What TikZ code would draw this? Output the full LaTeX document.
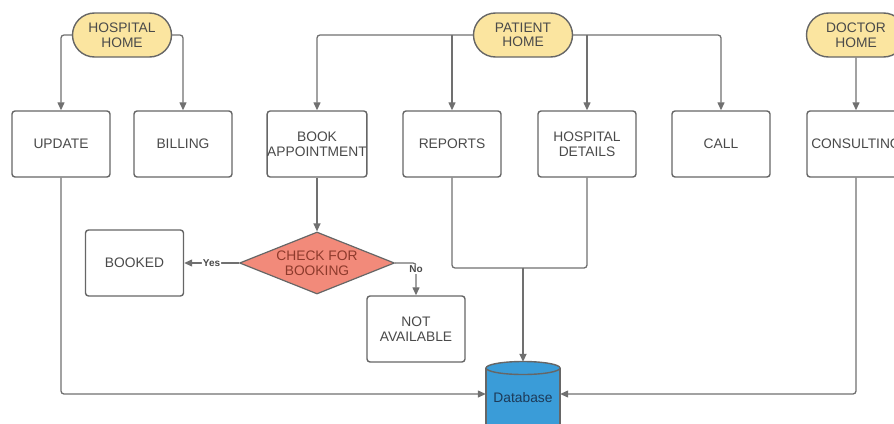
\documentclass[tikz,border=0pt]{standalone}
\usepackage{fontspec}
\setmainfont{Liberation Sans}
\usetikzlibrary{arrows.meta,shapes.geometric,shapes.misc}
\definecolor{linec}{HTML}{707070}
\definecolor{borderc}{HTML}{666666}
\definecolor{textc}{HTML}{4A4A4A}
\definecolor{homefill}{HTML}{FBE5A0}
\definecolor{diafill}{HTML}{F28A7A}
\definecolor{diatext}{HTML}{8E3A2C}
\definecolor{dbfill}{HTML}{3A9CD8}
\definecolor{dbtext}{HTML}{1D3A58}
\begin{document}
\begin{tikzpicture}[x=1pt,y=-1pt,
  txt/.style={font=\fontsize{13.8}{14.5}\selectfont,text=textc,align=center},
  box/.style={txt,draw=borderc,line width=1.4pt,rounded corners=3pt,fill=white,
    minimum width=98pt,minimum height=66pt,inner sep=0pt},
  home/.style={txt,draw=borderc,line width=1.4pt,rounded rectangle,fill=homefill,
    minimum width=99pt,minimum height=44pt,inner sep=0pt},
  decision/.style={txt,diamond,aspect=2.5,draw=borderc,line width=1.2pt,fill=diafill,
    text=diatext,minimum width=155pt,minimum height=62pt,inner sep=0pt},
  link/.style={draw=linec,line width=1.3pt,rounded corners=3pt},
  conn/.style={link,-{Triangle[length=8pt,width=7pt]}},
  small/.style={font=\bfseries\fontsize{10}{10}\selectfont,text=textc,fill=white,inner sep=1pt},
]
\useasboundingbox (0,0) rectangle (894,423);
\clip (0,0) rectangle (894,423);

% home nodes
\node[home] (hh) at (122,35) {HOSPITAL\\HOME};
\node[home] (ph) at (523,35) {PATIENT\\HOME};
\node[home] (dh) at (856,35) {DOCTOR\\HOME};

% boxes
\node[box] (upd)  at (61,144)  {UPDATE};
\node[box] (bil)  at (183,144) {BILLING};
\node[box] (book) at (317,144) {BOOK\\APPOINTMENT};
\node[box] (rep)  at (452,144) {REPORTS};
\node[box] (hd)   at (587,144) {HOSPITAL\\DETAILS};
\node[box] (call) at (721,144) {CALL};
\node[box] (cons) at (856,144) {CONSULTING};

\node[decision] (chk) at (317,263) {CHECK FOR\\BOOKING};
\node[box] (booked) at (134.5,263) {BOOKED};
\node[box] (na) at (416,329) {NOT\\AVAILABLE};

% database cylinder
\fill[dbfill] (486,368) rectangle (560,432);
\draw[borderc,line width=1.4pt] (486,368) -- (486,432) (560,368) -- (560,432);
\draw[borderc,line width=1.4pt,fill=dbfill] (523,368) ellipse [x radius=37pt,y radius=6.5pt];
\node[txt,text=dbtext,minimum width=74pt,minimum height=72pt,inner sep=0pt] (db) at (523,398) {Database};

% connectors from homes
\draw[conn] (hh.west) -| (upd.north);
\draw[conn] (hh.east) -| (bil.north);
\draw[conn] (ph.west) -| (book.north);
\draw[conn] (ph.west -| rep.north) -- (rep.north);
\draw[conn] (ph.east) -| (call.north);
\draw[conn] (ph.east -| hd.north) -- (hd.north);
\draw[conn] (dh) -- (cons);

% booking flow
\draw[conn] (book) -- (chk);
\draw[conn] (chk.west) -- node[small] {Yes} (booked.east);
\draw[conn] (chk.east) -| node[small,pos=0.6] {No} (na.north);

% to database
\coordinate (j) at (523,268);
\draw[link] (rep.south) |- (j);
\draw[link] (hd.south) |- (j);
\draw[conn,line width=1.8pt] (j) -- (db.north);
\draw[conn] (upd.south) |- ([yshift=4pt]db.west);
\draw[conn] (cons.south) |- ([yshift=4pt]db.east);
\end{tikzpicture}
\end{document}
